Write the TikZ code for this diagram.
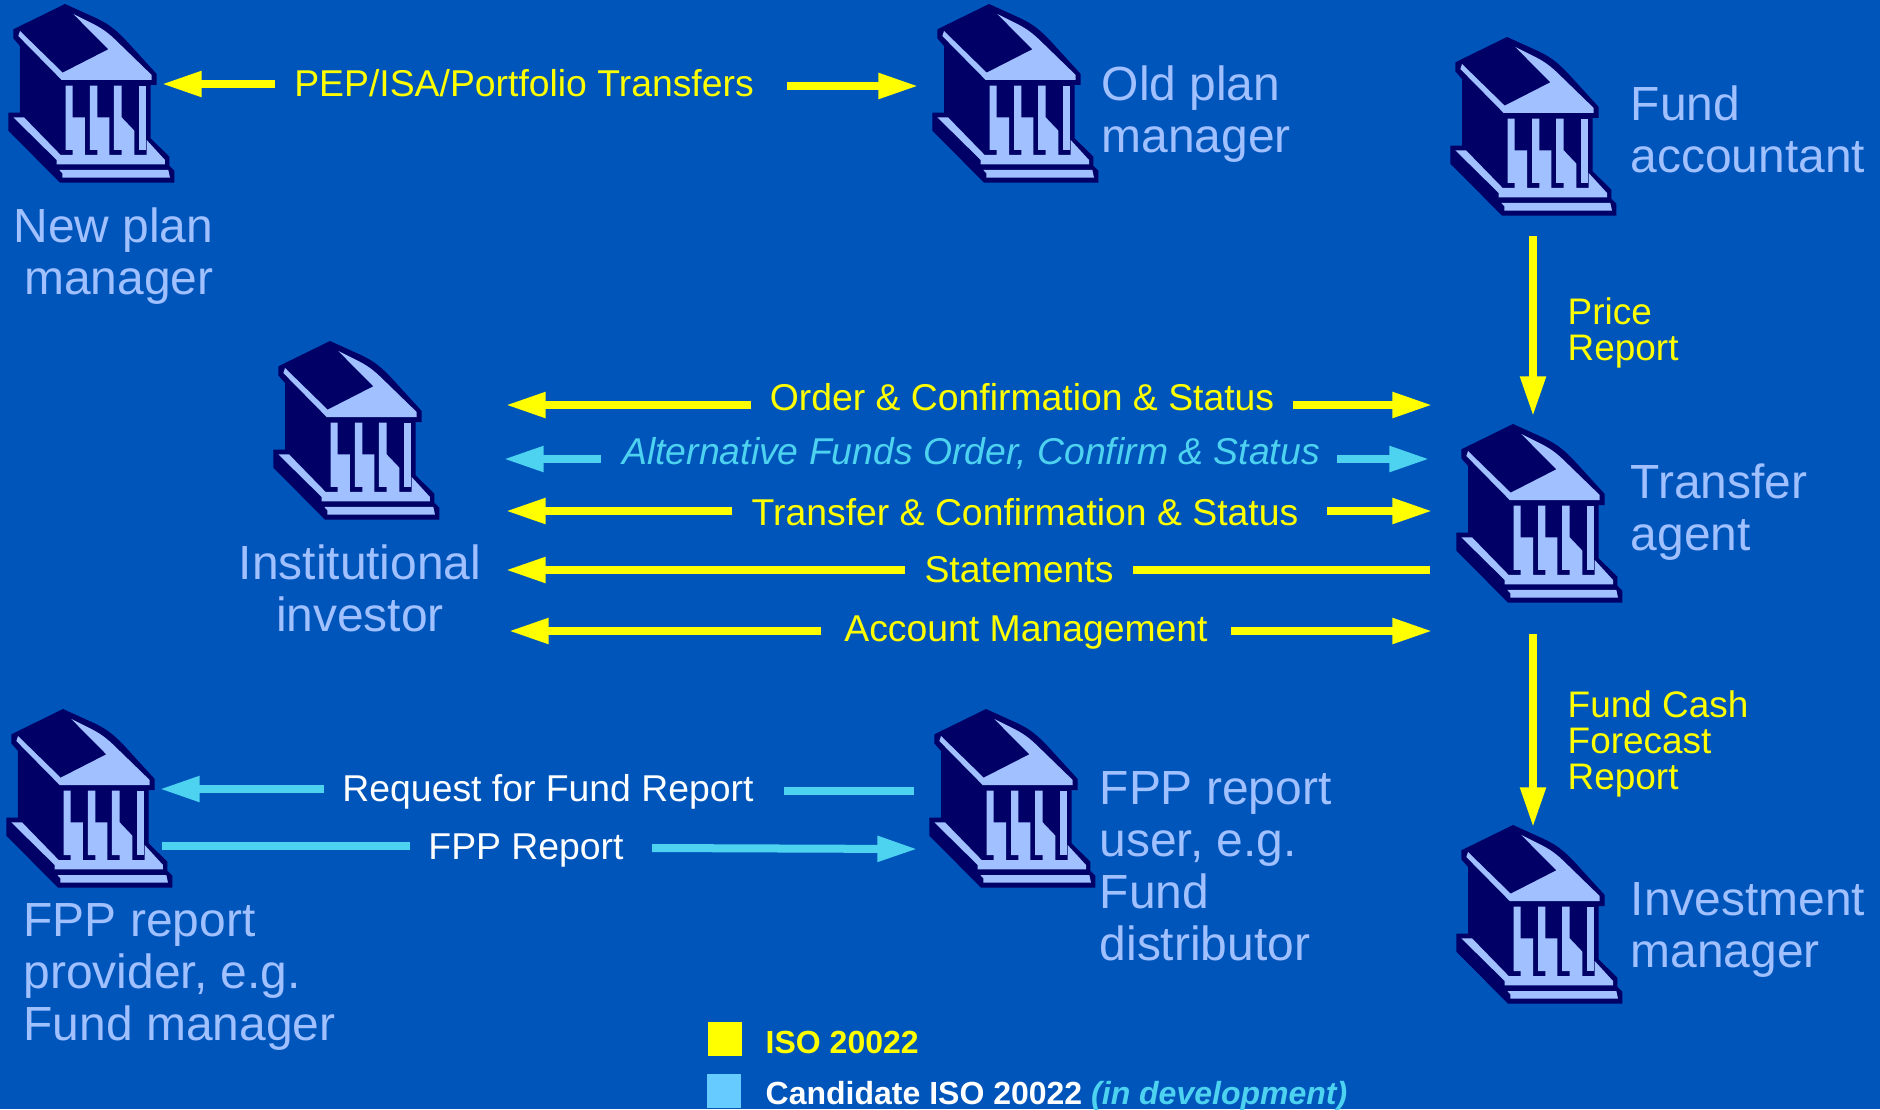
\documentclass[tikz,border=0pt]{standalone}
\usepackage{fontspec}
\setmainfont{Liberation Sans}
\usetikzlibrary{arrows.meta}

\definecolor{bankblue}{HTML}{0055BB}
\definecolor{banknavy}{HTML}{000066}
\definecolor{banklight}{HTML}{A0C0FF}
\definecolor{flowyellow}{RGB}{255,255,0}
\definecolor{flowcyan}{HTML}{4DD2F0}
\definecolor{keycyan}{HTML}{66CCFF}

\tikzset{
  partylabel/.style={text=banklight,inner sep=0pt,font=\fontsize{13.63}{14.8}\selectfont},
  flowlabel/.style={text=flowyellow,inner sep=0pt,font=\fontsize{10.62}{10.6}\selectfont},
  sidelabel/.style={flowlabel,align=left,anchor=west,font=\fontsize{10.5}{10.2}\selectfont},
  keylabel/.style={inner sep=0pt,anchor=west,font=\fontsize{9.1}{9.1}\selectfont\bfseries},
  yellowline/.style={draw=flowyellow,line width=0.08cm},
  cyanline/.style={draw=flowcyan,line width=0.08cm},
  yellowflow/.style={yellowline,shorten >=-0.024cm,-{Triangle[length=0.4cm,width=0.24cm]}},
  cyanflow/.style={cyanline,shorten >=-0.024cm,-{Triangle[length=0.4cm,width=0.24cm]}},
  bankicon/.pic={
    \begin{scope}[scale=0.3333]
    % dark outline of the building
    \fill[banknavy] (195,12) -- (40,88) -- (40,115) -- (60,138) -- (60,338) -- (25,338) -- (25,392)
      -- (180,548) -- (523,548) -- (523,512) -- (508,497) -- (508,470) -- (452,415) -- (452,255)
      -- (470,255) -- (470,222) -- (375,118) .. controls (340,82) and (320,70) .. (290,55) -- cycle;
    % roof
    \fill[banklight] (220,42) -- (272,68) .. controls (305,84) and (325,98) .. (355,128) -- (455,225)
      -- (455,240) -- (185,240) -- (55,108) -- (60,93) -- (188,218) -- (325,148) -- cycle;
    % columns
    \fill[banklight] (197,257) -- (218,257) -- (218,352) -- (255,352) -- (255,450) -- (197,450) -- cycle;
    \fill[banklight] (270,257) -- (292,257) -- (292,352) -- (328,352) -- (328,450) -- (270,450) -- cycle;
    \fill[banklight] (342,257) -- (365,257) -- (365,352) -- (403,392) -- (403,450) -- (342,450) -- cycle;
    \fill[banklight] (418,257) -- (437,257) -- (437,450) -- (418,450) -- cycle;
    % floor and step
    \fill[banklight] (40,352) -- (72,352) -- (182,465) -- (218,465) -- (218,450) -- (255,450) -- (255,465)
      -- (292,465) -- (292,450) -- (328,450) -- (328,465) -- (365,465) -- (365,450) -- (403,450) -- (403,465)
      -- (440,465) -- (440,420) -- (495,480) -- (495,493) -- (170,493) -- (170,480) -- cycle;
    \fill[banklight] (178,510) -- (505,510) -- (510,533) -- (187,533) -- (187,520) -- cycle;
    \end{scope}
  }
}

\begin{document}
\begin{tikzpicture}[x=0.01cm,y=-0.01cm]

   \path [use as bounding box,fill=bankblue] (0,0) rectangle (1880,1109);

   \pic (newplan) at (0,0) {bankicon};
   \pic (oldplan) at (924,0) {bankicon};
   \pic (accountant) at (1442,33) {bankicon};
   \pic (investor) at (265,337) {bankicon};
   \pic (transfer) at (1448,420) {bankicon};
   \pic (provider) at (-2,705) {bankicon};
   \pic (user) at (921,705) {bankicon};
   \pic (manager) at (1448,821) {bankicon};

   \node (newplanlabel) at (214,256) [partylabel,align=right,anchor=east] {New plan\\manager};
   \node (oldplanlabel) at (1101,114) [partylabel,align=left,anchor=west] {Old plan\\manager};
   \node (accountantlabel) at (1630,129) [partylabel,align=left,anchor=west] {Fund\\accountant};
   \node (transferlabel) at (1630,512) [partylabel,align=left,anchor=west] {Transfer\\agent};
   \node (managerlabel) at (1630,930) [partylabel,align=left,anchor=west] {Investment\\manager};
   \node (investorlabel) at (360,588) [partylabel,align=center] {Institutional\\investor};
   \node (providerlabel) at (23,977) [partylabel,align=left,anchor=west] {FPP report\\provider, e.g.\\Fund manager};
   \node (userlabel) at (1099,866) [partylabel,align=left,anchor=west] {FPP report\\user, e.g.\\Fund\\distributor};

   \node (pep) at (524,83) [flowlabel] {PEP/ISA/Portfolio Transfers};
   \node (order) at (1022,397) [flowlabel] {Order \& Confirmation \& Status};
   \node (alternative) at (971,453) [flowlabel,text=flowcyan,font=\fontsize{10.62}{10.6}\selectfont\itshape] {Alternative Funds Order, Confirm \& Status};
   \node (transferconf) at (1025,512) [flowlabel] {Transfer \& Confirmation \& Status};
   \node (statements) at (1019,570) [flowlabel] {Statements};
   \node (account) at (1026,633) [flowlabel] {Account Management};
   \node (request) at (548,792) [flowlabel,text=white] {Request for Fund Report};
   \node (report) at (526,851) [flowlabel,text=white] {FPP Report};
   \node (price) at (1567,333) [sidelabel] {Price\\Report};
   \node (forecast) at (1567,744) [sidelabel] {Fund Cash\\Forecast\\Report};

   \coordinate (pepA) at (275,84);
   \coordinate (pepB) at (164,84);
   \coordinate (pepC) at (787,86);
   \coordinate (pepD) at (916,86);
   \coordinate (orderA) at (751,405);
   \coordinate (orderB) at (508,405);
   \coordinate (orderC) at (1293,405);
   \coordinate (orderD) at (1430,405);
   \coordinate (altA) at (601,459);
   \coordinate (altB) at (506,459);
   \coordinate (altC) at (1337,459);
   \coordinate (altD) at (1427,459);
   \coordinate (transA) at (732,511);
   \coordinate (transB) at (508,511);
   \coordinate (transC) at (1327,511);
   \coordinate (transD) at (1430,511);
   \coordinate (stateA) at (905,570);
   \coordinate (stateB) at (508,570);
   \coordinate (stateC) at (1133,570);
   \coordinate (stateD) at (1430,570);
   \coordinate (accA) at (821,631);
   \coordinate (accB) at (511,631);
   \coordinate (accC) at (1231,631);
   \coordinate (accD) at (1430,631);
   \coordinate (reqA) at (324,789);
   \coordinate (reqB) at (162,789);
   \coordinate (reqC) at (784,791);
   \coordinate (reqD) at (914,791);
   \coordinate (fppA) at (162,846);
   \coordinate (fppB) at (410,846);
   \coordinate (fppC) at (652,848);
   \coordinate (fppD) at (915,849);
   \coordinate (priceA) at (1533,236);
   \coordinate (priceB) at (1533,414);
   \coordinate (cashA) at (1533,634);
   \coordinate (cashB) at (1533,825);

   \draw [yellowflow] (pepA) -- (pepB);
   \draw [yellowflow] (pepC) -- (pepD);

   \draw [yellowflow] (orderA) -- (orderB);
   \draw [yellowflow] (orderC) -- (orderD);

   \draw [cyanflow] (altA) -- (altB);
   \draw [cyanflow] (altC) -- (altD);

   \draw [yellowflow] (transA) -- (transB);
   \draw [yellowflow] (transC) -- (transD);

   \draw [yellowflow] (stateA) -- (stateB);
   \draw [yellowline] (stateC) -- (stateD);

   \draw [yellowflow] (accA) -- (accB);
   \draw [yellowflow] (accC) -- (accD);

   \draw [cyanflow] (reqA) -- (reqB);
   \draw [cyanline] (reqC) -- (reqD);

   \draw [cyanline] (fppA) -- (fppB);
   \draw [cyanflow] (fppC) -- (fppD);

   \draw [yellowflow] (priceA) -- (priceB);
   \draw [yellowflow] (cashA) -- (cashB);

   \fill [flowyellow] (708,1022) rectangle (742,1056);
   \fill [keycyan] (707,1074) rectangle (741,1108);
   \node (isokey) at (765,1042) [keylabel,text=flowyellow] {ISO 20022};
   \node (candidatekey) at (765,1096) [keylabel,text=white] {Candidate ISO 20022 \textcolor{flowcyan}{\itshape (in development)}};

\end{tikzpicture}
\end{document}
